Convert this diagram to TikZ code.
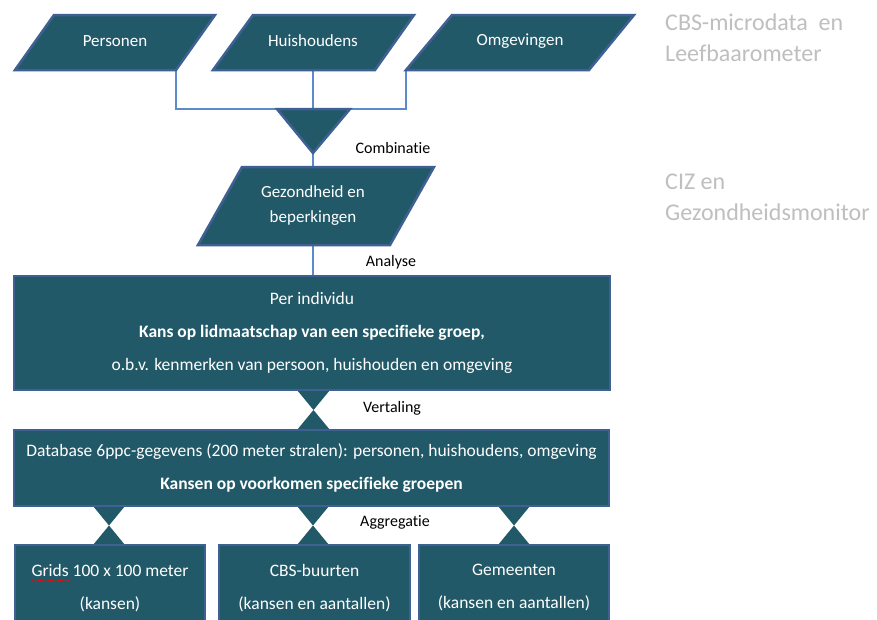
\documentclass[tikz,border=0pt]{standalone}
\usepackage{fontspec}
\setmainfont{Carlito}[Ligatures=NoCommon]
\usetikzlibrary{decorations.pathmorphing}
\definecolor{boxfill}{RGB}{33,89,104}
\definecolor{boxedge}{RGB}{62,96,146}
\definecolor{connc}{RGB}{91,139,200}
\definecolor{graytxt}{RGB}{191,191,191}
\tikzset{
  shapebox/.style={fill=boxfill, draw=boxedge, line width=2.5pt},
  box/.style={shapebox, rectangle, inner sep=0pt, text=white, align=center, font=\fontsize{17.5}{33}\selectfont},
  ptext/.style={text=white, align=center, font=\fontsize{17}{25}\selectfont, inner sep=0pt},
  hg/.style={fill=boxfill},
  conn/.style={draw=connc, line width=1.5pt},
  lbl/.style={font=\fontsize{16}{19}\selectfont, text=black, inner sep=0pt},
  src/.style={font=\fontsize{24}{31}\selectfont, text=graytxt, align=left, anchor=west, inner sep=0pt},
}
\begin{document}
\begin{tikzpicture}[x=1pt,y=-1pt]
\useasboundingbox (0,0) rectangle (877,619);
\clip (0,0) rectangle (877,619);
\fill[white] (0,0) rectangle (877,619);

% key coordinates
\coordinate (pers-br) at (176,70);
\coordinate (huis-b) at (313,70);
\coordinate (omg-bl) at (406,70);
\coordinate (comb-top) at (313,109);
\coordinate (comb-apex) at (313,153);
\coordinate (gez-t) at (313,167);
\coordinate (gez-b) at (313,245);

% connectors (behind the shapes)
\draw[conn] (pers-br) -- (pers-br |- comb-top) -- (omg-bl |- comb-top) -- (omg-bl);
\draw[conn] (huis-b) -- (comb-top);
\draw[conn] (comb-apex) -- (gez-t);

% hourglasses (drawn before the boxes)
\fill[hg] (297,390) -- (330,390) -- (297,430) -- (330,430) -- cycle;
\fill[hg] (93,506) -- (125,506) -- (93,545) -- (125,545) -- cycle;
\fill[hg] (297,506) -- (329,506) -- (297,545) -- (329,545) -- cycle;
\fill[hg] (498,506) -- (530,506) -- (498,545) -- (530,545) -- cycle;

% boxes
\node[box, minimum width=596pt, minimum height=114pt] (ind) at (312,333)
  {Per individu\\\textbf{Kans op lidmaatschap van een specifieke groep,}\\o.b.v. kenmerken van persoon, huishouden en omgeving};
\draw[conn] (gez-b) -- (ind.north -| gez-b);

\node[box, minimum width=595pt, minimum height=76pt] (db) at (311.5,468)
  {Database 6ppc-gegevens (200 meter stralen): personen, huishoudens, omgeving\\\textbf{Kansen op voorkomen specifieke groepen}};

\node[box, minimum width=190pt, minimum height=86pt] (grid) at (110,588)
  {Grids 100 x 100 meter\\(kansen)};
\node[box, minimum width=191pt, minimum height=86pt] (buurt) at (314.5,588)
  {CBS-buurten\\(kansen en aantallen)};
\node[box, minimum width=190pt, minimum height=86pt] (gem) at (514,588)
  {Gemeenten\\(kansen en aantallen)};
\draw[red, line width=0.6pt, decorate, decoration={snake, segment length=2.5pt, amplitude=0.6pt}]
  (31,580) -- (69,580);

% parallelograms
\path[shapebox] (54,15) -- (215,15) -- (pers-br) -- (15,70) -- cycle;
\node[ptext] (pers) at (115,41) {Personen};
\path[shapebox] (253,15) -- (414,15) -- (375,70) -- (213,70) -- cycle;
\node[ptext] (huis) at (313,41) {Huishoudens};
\path[shapebox] (452,15) -- (634,15) -- (589,70) -- (omg-bl) -- cycle;
\node[ptext] (omg) at (520,41) {Omgevingen};

% combination triangle
\path[shapebox] (277,109) -- (350,109) -- (comb-apex) -- cycle;

\path[shapebox] (242,167) -- (434,167) -- (390,245) -- (198,245) -- cycle;
\node[ptext] (gez) at (313,206) {Gezondheid en\\beperkingen};

% labels
\node[lbl] (l1) at (393,148) {Combinatie};
\node[lbl] (l2) at (391,262) {Analyse};
\node[lbl] (l3) at (392,408) {Vertaling};
\node[lbl] (l4) at (395,522) {Aggregatie};

% sources
\node[src] (s1) at (665,37.5) {CBS-microdata~ en\\Leefbaarometer};
\node[src] (s2) at (665,197.5) {CIZ en\\Gezondheidsmonitor};
\end{tikzpicture}
\end{document}
